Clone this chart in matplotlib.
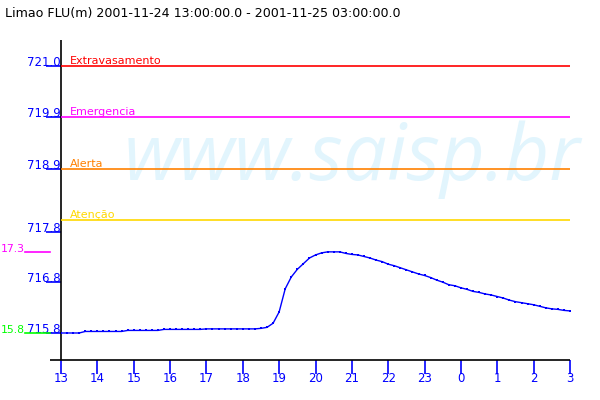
import numpy as np
import matplotlib
matplotlib.use('Agg')
import matplotlib.pyplot as plt

# Limao FLU level, one reading every 10 min, 2001-11-24 13:00 -> 2001-11-25 03:00
level = [
    715.80, 715.80, 715.80, 715.80, 715.83, 715.83, 715.83, 715.83, 715.83, 715.83,
    715.83, 715.85, 715.85, 715.85, 715.85, 715.85, 715.85, 715.87, 715.87, 715.87,
    715.87, 715.87, 715.87, 715.87, 715.88, 715.88, 715.88, 715.88, 715.88, 715.88,
    715.88, 715.88, 715.88, 715.89, 715.91, 715.99, 716.21, 716.66, 716.89, 717.04,
    717.15, 717.26, 717.32, 717.36, 717.38, 717.38, 717.38, 717.35, 717.33, 717.32,
    717.29, 717.26, 717.22, 717.19, 717.14, 717.11, 717.07, 717.03, 716.99, 716.95,
    716.92, 716.88, 716.83, 716.79, 716.74, 716.72, 716.68, 716.65, 716.61, 716.59,
    716.56, 716.54, 716.51, 716.48, 716.44, 716.41, 716.39, 716.37, 716.35, 716.32,
    716.29, 716.27, 716.26, 716.24, 716.23,
]
start_hour = 13
hour_labels = ['13', '14', '15', '16', '17', '18', '19', '20', '21', '22', '23',
               '0', '1', '2', '3']

# alarm levels
thr_names  = ['Extravasamento', 'Emergencia', 'Alerta', 'Atenção']
thr_values = [721.0, 720.0, 719.0, 718.0]
thr_colors = ['#FF0000', '#FF00FF', '#FF8000', '#FFD800']

# y ticks as printed on the chart
ytick_values = [715.8, 716.8, 717.77, 719.0, 720.0, 721.0]
ytick_labels = ['715.8', '716.8', '717.8', '718.9', '719.9', '721.0']

max_label, min_label = '17.3', '15.8'

BLUE = '#0000FF'
FONT = 'DejaVu Sans'

hours = start_hour + np.arange(len(level)) / 6.0

fig = plt.figure(figsize=(6, 4), dpi=100)
ax = fig.add_axes([61 / 600, 40 / 400, 509 / 600, 320 / 400])
ax.set_xlim(start_hour, start_hour + len(hour_labels) - 1)
ax.set_ylim(715.274, 721.506)

for s in ax.spines.values():
    s.set_visible(False)

# axes lines (bottom one sticks out to the left a bit)
ax.plot([-11 / 509, 1], [0, 0], transform=ax.transAxes, color='black', lw=1.2,
        clip_on=False, solid_capstyle='butt')
ax.plot([0, 0], [0, 1], transform=ax.transAxes, color='black', lw=1.2,
        clip_on=False, solid_capstyle='butt')

# watermark
ax.text(0.572, 0.5625, 'www.saisp.br', transform=ax.transAxes, ha='center',
        va='baseline', fontsize=56, style='italic', family='Open Sans',
        color='#E2F5FD', zorder=0)

# threshold lines
for name, val, col in zip(thr_names, thr_values, thr_colors):
    ax.axhline(val, color=col, lw=1.2, zorder=2)
    ax.text(9 / 509, val, name, transform=ax.get_yaxis_transform(), color=col,
            fontsize=8, family=FONT, va='bottom', ha='left')

# series
ax.plot(hours, level, color=BLUE, lw=1, marker='s', markersize=1.8,
        markeredgewidth=0, zorder=3)

# ticks
ax.set_xticks(range(start_hour, start_hour + len(hour_labels)))
ax.set_xticklabels(hour_labels, family=FONT, fontsize=8.5, color=BLUE)
ax.set_yticks(ytick_values)
ax.set_yticklabels(ytick_labels, family=FONT, fontsize=8.5, color=BLUE)
ax.tick_params(axis='x', direction='out', length=10, width=1.2, color=BLUE, pad=-1.5)
ax.tick_params(axis='y', direction='out', length=11, width=1.2, color=BLUE, pad=-11)
for lab in ax.get_yticklabels():
    lab.set_verticalalignment('baseline')

# max / min markers on the left
ymax, ymin = max(level), min(level)
yt = ax.get_yaxis_transform()
ax.plot([-36 / 509, -11 / 509], [ymax, ymax], transform=yt, color='#FF00FF', lw=1.2,
        clip_on=False)
ax.plot([-36 / 509, -11 / 509], [ymin, ymin], transform=yt, color='#00FF00', lw=1.2,
        clip_on=False)
ax.text(-36 / 509, ymax, max_label, transform=yt, color='#FF00FF', fontsize=7.8,
        family=FONT, ha='right', va='baseline')
ax.text(-36 / 509, ymin, min_label, transform=yt, color='#00FF00', fontsize=7.8,
        family=FONT, ha='right', va='baseline')

fig.text(5 / 600, 1 - 17 / 400, 'Limao FLU(m) 2001-11-24 13:00:00.0 - 2001-11-25 03:00:00.0',
         family=FONT, fontsize=9.1, color='black', ha='left', va='baseline')

fig.savefig('out.png', dpi=100)
